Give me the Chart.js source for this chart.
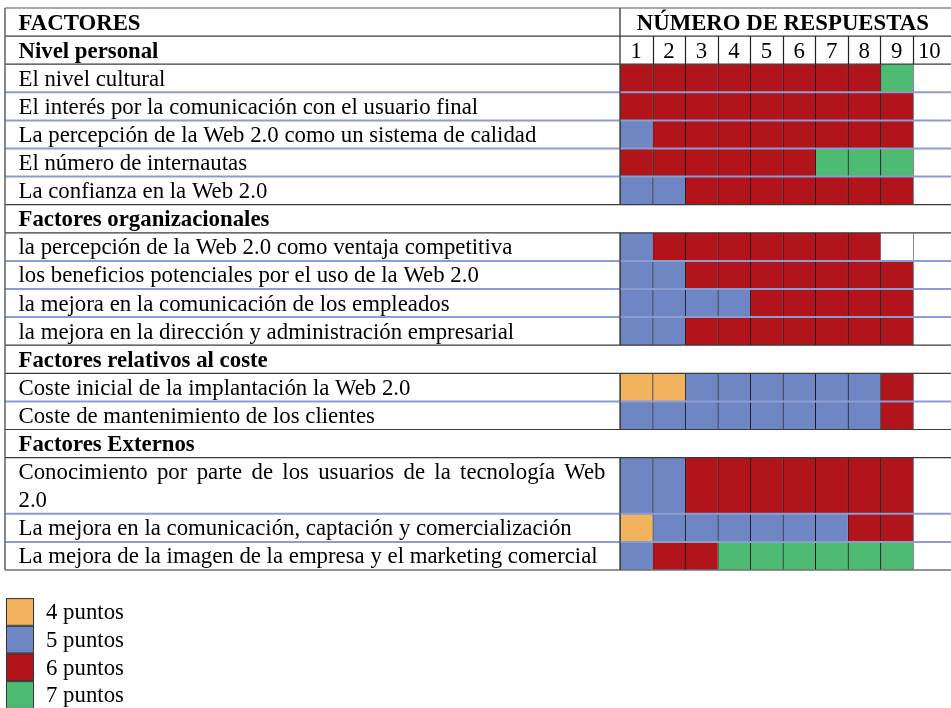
<!DOCTYPE html>
<html>
<head>
<meta charset="utf-8">
<script src="https://cdn.jsdelivr.net/npm/chart.js@4.4.1/dist/chart.umd.min.js"></script>
<style>
  html, body { margin: 0; padding: 0; background: #fff; }
  #wrap { width: 951px; height: 708px; }
</style>
</head>
<body>
<div id="wrap"><canvas id="tabla" width="951" height="708"></canvas></div>
<script>
var factorTitle = 'FACTORES';
var answersTitle = 'NÚMERO DE RESPUESTAS';
var responseTicks = ['1', '2', '3', '4', '5', '6', '7', '8', '9', '10'];
var sectionTitles = ['Nivel personal', 'Factores organizacionales', 'Factores relativos al coste', 'Factores Externos'];
var sectionSizes = [5, 4, 2, 3];
var factorLabels = [
  'El nivel cultural',
  'El interés por la comunicación con el usuario final',
  'La percepción de la Web 2.0 como un sistema de calidad',
  'El número de internautas',
  'La confianza en la Web 2.0',
  'la percepción de la Web 2.0 como ventaja competitiva',
  'los beneficios potenciales por el uso de la Web 2.0',
  'la mejora en la comunicación de los empleados',
  'la mejora en la dirección y administración empresarial',
  'Coste inicial de la implantación la Web 2.0',
  'Coste de mantenimiento de los clientes',
  'Conocimiento por parte de los usuarios de la tecnología Web 2.0',
  'La mejora en la comunicación, captación y comercialización',
  'La mejora de la imagen de la empresa y el marketing comercial'
];
// puntos por respuesta (columnas 1..10), null = sin respuesta
var scores = [
  [6, 6, 6, 6, 6, 6, 6, 6, 7, null],
  [6, 6, 6, 6, 6, 6, 6, 6, 6, null],
  [5, 6, 6, 6, 6, 6, 6, 6, 6, null],
  [6, 6, 6, 6, 6, 6, 7, 7, 7, null],
  [5, 5, 6, 6, 6, 6, 6, 6, 6, null],
  [5, 6, 6, 6, 6, 6, 6, 6, null, null],
  [5, 5, 6, 6, 6, 6, 6, 6, 6, null],
  [5, 5, 5, 5, 6, 6, 6, 6, 6, null],
  [5, 5, 6, 6, 6, 6, 6, 6, 6, null],
  [4, 4, 5, 5, 5, 5, 5, 5, 6, null],
  [5, 5, 5, 5, 5, 5, 5, 5, 6, null],
  [5, 5, 6, 6, 6, 6, 6, 6, 6, null],
  [4, 5, 5, 5, 5, 5, 5, 6, 6, null],
  [5, 6, 6, 7, 7, 7, 7, 7, 7, null]
];
var pointLevels = [4, 5, 6, 7];
var pointLabels = ['4 puntos', '5 puntos', '6 puntos', '7 puntos'];
var pointColors = ['#F2B35F', '#6E87C4', '#B1151B', '#4DBB72'];

var canvas = document.getElementById('tabla');
var ctx = canvas.getContext('2d');
var FONT = '22.8px "Liberation Serif", "Times New Roman", serif';
var BOLD = 'bold ' + FONT;
var textLeft = 18.5, textWidth = 587;
var ink = '#000';

// wrap the long labels to the width of the first column
function wrapText(text) {
  ctx.font = FONT;
  var words = text.split(' '), lines = [], cur = [];
  words.forEach(function(w) {
    var test = cur.concat([w]).join(' ');
    if (cur.length && ctx.measureText(test).width > textWidth) {
      lines.push(cur);
      cur = [w];
    } else {
      cur.push(w);
    }
  });
  lines.push(cur);
  return lines;
}

var rows = [];
var unit = 0;
rows.push({kind: 'title', top: 0, size: 1});
unit = 1;
var item = 0;
sectionTitles.forEach(function(title, s) {
  rows.push({kind: 'section', section: s, text: title, top: unit, size: 1});
  unit++;
  for (var k = 0; k < sectionSizes[s]; k++) {
    var lines = wrapText(factorLabels[item]);
    rows.push({kind: 'item', section: s, item: item, lines: lines, top: unit, size: lines.length});
    unit += lines.length;
    item++;
  }
});
var totalUnits = unit;
var itemRows = rows.filter(function(r) { return r.kind === 'item'; });

var datasets = pointLevels.map(function(level, k) {
  var pts = [];
  scores.forEach(function(row, r) {
    var ir = itemRows[r];
    row.forEach(function(v, c) {
      if (v === level) pts.push({x: c + 0.5, y: [ir.top, ir.top + ir.size]});
    });
  });
  return {
    label: pointLabels[k],
    data: pts,
    backgroundColor: pointColors[k],
    borderColor: 'rgba(0,0,0,0.85)',
    borderWidth: {left: 1, right: 0, top: 0, bottom: 0},
    borderSkipped: false,
    grouped: false,
    categoryPercentage: 1,
    barPercentage: 1
  };
});

function hLine(c, y, x1, x2, color, w) {
  c.beginPath();
  c.strokeStyle = color;
  c.lineWidth = w;
  c.moveTo(x1, y);
  c.lineTo(x2, y);
  c.stroke();
}
function vLine(c, x, y1, y2, color, w) {
  c.beginPath();
  c.strokeStyle = color;
  c.lineWidth = w;
  c.moveTo(x, y1);
  c.lineTo(x, y2);
  c.stroke();
}

function drawJustified(c, words, x, y, justify) {
  if (!justify || words.length < 2) {
    c.fillText(words.join(' '), x, y);
    return;
  }
  var natural = c.measureText(words.join(' ')).width;
  var space = c.measureText(' ').width;
  var gap = space + (textWidth - natural) / (words.length - 1);
  var px = x;
  words.forEach(function(w) {
    c.fillText(w, px, y);
    px += c.measureText(w).width + gap;
  });
}

var tablePlugin = {
  id: 'tabla',
  beforeDatasetsDraw: function(chart) {
    var c = chart.ctx, xs = chart.scales.x, ys = chart.scales.y;
    c.save();
    itemRows.forEach(function(r) {
      var t = ys.getPixelForValue(r.top), b = ys.getPixelForValue(r.top + r.size);
      for (var i = 0; i <= 9; i++) {
        vLine(c, Math.round(xs.getPixelForValue(i)) + 0.5, t, b, '#8a8a8a', 1);
      }
    });
    c.restore();
  },
  afterDatasetsDraw: function(chart) {
    var c = chart.ctx, xs = chart.scales.x, ys = chart.scales.y;
    var W = chart.width;
    var left = 5;
    var split = xs.getPixelForValue(0);
    var unitPx = ys.getPixelForValue(1) - ys.getPixelForValue(0);
    c.save();

    // row separators
    hLine(c, ys.getPixelForValue(0), left, W, '#555', 1.2);
    for (var i = 0; i < rows.length - 1; i++) {
      var a = rows[i], b = rows[i + 1];
      var y = ys.getPixelForValue(b.top);
      if (a.kind === 'item' && b.kind === 'item' && a.section === b.section) {
        hLine(c, y, left, W, '#8C9CD0', 2);
      } else {
        hLine(c, y, left, W, '#3a3a3a', 1.2);
      }
    }
    hLine(c, ys.getPixelForValue(totalUnits), left, W, '#707070', 1.6);

    // vertical borders
    vLine(c, left, ys.getPixelForValue(0), ys.getPixelForValue(totalUnits), '#555', 1.4);
    rows.forEach(function(r) {
      if (r.kind === 'section' && r.section > 0) return;
      vLine(c, split, ys.getPixelForValue(r.top), ys.getPixelForValue(r.top + r.size), '#444', 1.4);
    });

    c.fillStyle = ink;
    c.textBaseline = 'alphabetic';
    rows.forEach(function(r) {
      var top = ys.getPixelForValue(r.top);
      var base = top + 21.5;
      if (r.kind === 'title') {
        c.font = BOLD;
        c.textAlign = 'left';
        c.fillText(factorTitle, textLeft, base);
        c.textAlign = 'center';
        c.fillText(answersTitle, (xs.getPixelForValue(0) + xs.getPixelForValue(10)) / 2, base);
      } else if (r.kind === 'section') {
        c.font = BOLD;
        c.textAlign = 'left';
        c.fillText(r.text, textLeft, base);
        if (r.section === 0) {
          c.font = FONT;
          c.textAlign = 'center';
          responseTicks.forEach(function(t, k) {
            c.fillText(t, xs.getPixelForValue(k + 0.5), base + 0.5);
          });
          for (var k = 1; k <= 9; k++) {
            vLine(c, Math.round(xs.getPixelForValue(k)) + 0.5, top, ys.getPixelForValue(r.top + 1), '#222', 1.2);
          }
        }
      } else {
        c.font = FONT;
        c.textAlign = 'left';
        r.lines.forEach(function(words, li) {
          drawJustified(c, words, textLeft, base + li * unitPx, li < r.lines.length - 1);
        });
      }
    });

    // legend
    var ly = chart.chartArea.bottom + unitPx;
    c.textAlign = 'left';
    c.font = FONT;
    chart.data.datasets.forEach(function(ds, k) {
      var y0 = ly + k * (unitPx - 0.4);
      c.fillStyle = ds.backgroundColor;
      c.fillRect(6, y0, 28, unitPx - 0.4);
      c.strokeStyle = '#333';
      c.lineWidth = 1;
      c.strokeRect(6.5, y0 + 0.5, 27, unitPx - 1.4);
      c.fillStyle = ink;
      c.fillText(ds.label, 46, y0 + 21);
    });
    c.restore();
  }
};

var tabla = new Chart(ctx, {
  type: 'bar',
  data: {datasets: datasets},
  options: {
    responsive: false,
    animation: false,
    devicePixelRatio: 1,
    layout: {padding: {left: 620, right: 5.4, top: 8, bottom: 138}},
    plugins: {
      legend: {display: false},
      tooltip: {enabled: false}
    },
    scales: {
      x: {type: 'linear', min: 0, max: 10, offset: false, display: false, ticks: {stepSize: 1}},
      y: {type: 'linear', min: 0, max: totalUnits, reverse: true, offset: false, display: false}
    }
  },
  plugins: [tablePlugin]
});
</script>
</body>
</html>
